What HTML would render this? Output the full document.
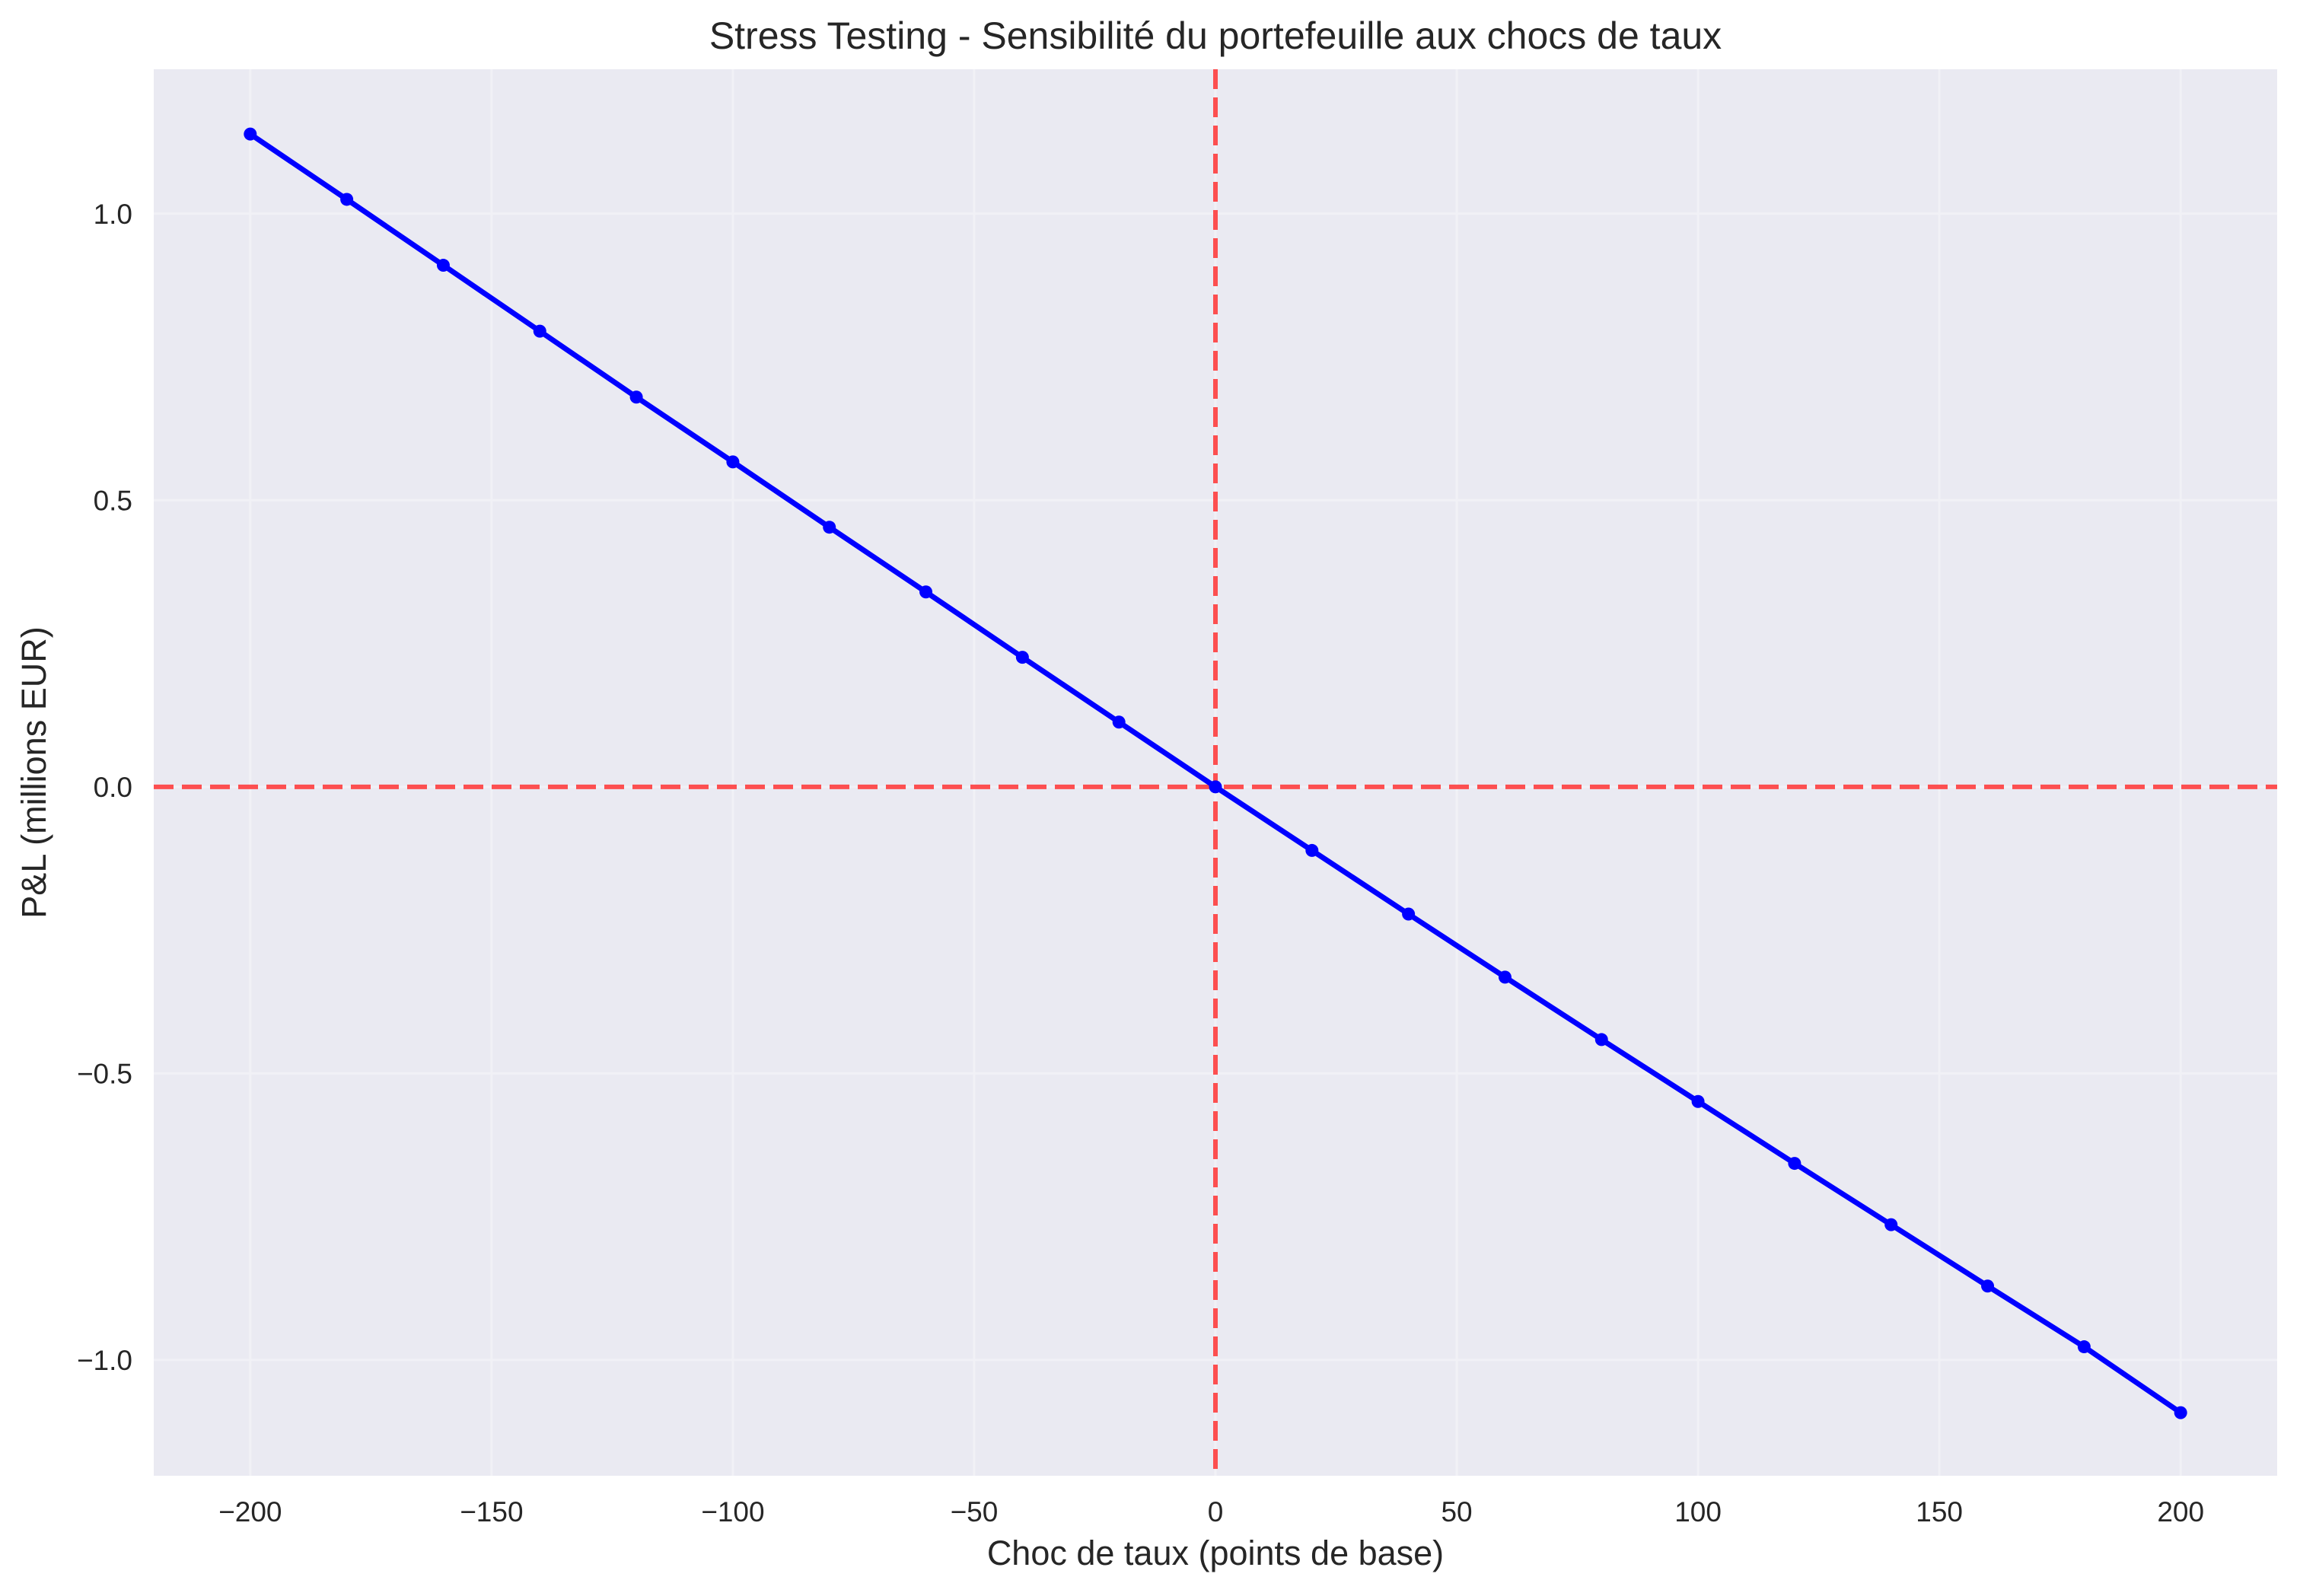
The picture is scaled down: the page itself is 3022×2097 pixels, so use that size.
<!DOCTYPE html>
<html><head><meta charset="utf-8"><style>
html,body{margin:0;padding:0;background:#fff;}
svg{display:block;font-family:"Liberation Sans","DejaVu Sans",sans-serif;}
</style></head><body>
<svg id="chart" width="3022" height="2097" viewBox="0 0 3022 2097">
<rect x="202" y="91" width="2790" height="1848" fill="#eaeaf2"/>
<g id="grid"></g>
<g id="refs"></g>
<g id="series"></g>
<g id="ticks"></g>
<text x="1597" y="64" font-size="50" fill="#262626" text-anchor="middle">Stress Testing - Sensibilité du portefeuille aux chocs de taux</text>
<text x="1597" y="2056" font-size="45" fill="#262626" text-anchor="middle">Choc de taux (points de base)</text>
<text x="60" y="1015" font-size="45" fill="#262626" text-anchor="middle" transform="rotate(-90 60 1015)">P&amp;L (millions EUR)</text>
</svg>
<script>
const shocks = [-200,-180,-160,-140,-120,-100,-80,-60,-40,-20,0,20,40,60,80,100,120,140,160,180,200];
const pnl = [1.139,1.025,0.910,0.795,0.680,0.567,0.453,0.340,0.226,0.113,0,-0.111,-0.222,-0.332,-0.441,-0.549,-0.657,-0.764,-0.871,-0.977,-1.092];
const xTicks = [-200,-150,-100,-50,0,50,100,150,200];
const yTicks = [-1.0,-0.5,0.0,0.5,1.0];
const yTickLabels = ["\u22121.0","\u22120.5","0.0","0.5","1.0"];

const L=202,R=2992,T=91,B=1939, XMIN=-220,XMAX=220,YMIN=-1.202,YMAX=1.252;
const sx=v=>L+(v-XMIN)/(XMAX-XMIN)*(R-L);
const sy=v=>B-(v-YMIN)/(YMAX-YMIN)*(B-T);
const NS="http://www.w3.org/2000/svg";
function mk(tag,attrs,parent){const e=document.createElementNS(NS,tag);for(const k in attrs)e.setAttribute(k,attrs[k]);parent.appendChild(e);return e;}
const grid=document.getElementById('grid'),ticks=document.getElementById('ticks'),refs=document.getElementById('refs'),series=document.getElementById('series');
xTicks.forEach(v=>{
  const g=mk('line',{x1:sx(v),x2:sx(v),y1:T,y2:B,stroke:'#f1f1f6','stroke-width':3},grid);
  
  
  const t=mk('text',{x:sx(v),y:1999,'font-size':37,fill:'#262626','text-anchor':'middle'},ticks);
  t.textContent=v<0?'\u2212'+Math.abs(v):String(v);
  
  
});
yTicks.forEach((v,i)=>{
  const g=mk('line',{x1:L,x2:R,y1:sy(v),y2:sy(v),stroke:'#f1f1f6','stroke-width':3},grid);
  
  
  const t=mk('text',{x:174,y:sy(v)+13,'font-size':37,fill:'#262626','text-anchor':'end'},ticks);
  t.textContent=yTickLabels[i];
  
  
});
const h=mk('line',{x1:L,x2:R,y1:sy(0),y2:sy(0),stroke:'#ff3333','stroke-opacity':0.85,'stroke-width':6,'stroke-dasharray':'26 11'},refs);


const vl=mk('line',{x1:sx(0),x2:sx(0),y1:T,y2:B,stroke:'#ff3333','stroke-opacity':0.85,'stroke-width':6,'stroke-dasharray':'26 11'},refs);


const pts=shocks.map((s,i)=>sx(s)+','+sy(pnl[i])).join(' ');
const pl=mk('polyline',{points:pts,fill:'none',stroke:'#0000ff','stroke-width':7,'stroke-linejoin':'round'},series);


shocks.forEach((s,i)=>{
  const c=mk('circle',{cx:sx(s),cy:sy(pnl[i]),r:8.5,fill:'#0000ff'},series);
  
  
});
</script>
</body></html>
